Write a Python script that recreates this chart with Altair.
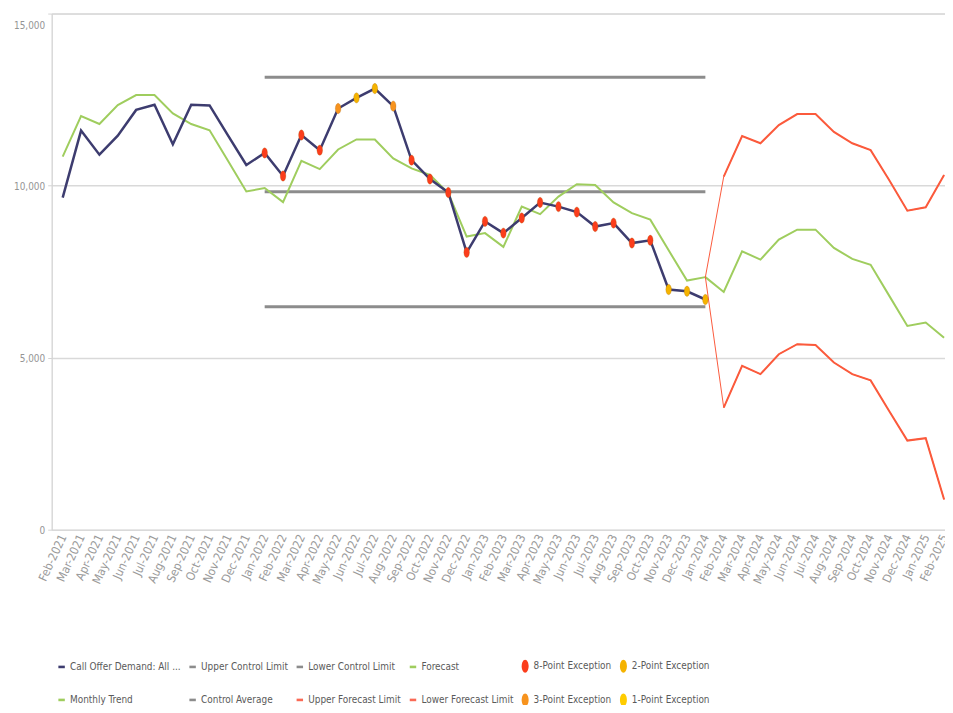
import altair as alt
import pandas as pd

months = [
    "Feb-2021", "Mar-2021", "Apr-2021", "May-2021", "Jun-2021", "Jul-2021", "Aug-2021",
    "Sep-2021", "Oct-2021", "Nov-2021", "Dec-2021", "Jan-2022", "Feb-2022", "Mar-2022",
    "Apr-2022", "May-2022", "Jun-2022", "Jul-2022", "Aug-2022", "Sep-2022", "Oct-2022",
    "Nov-2022", "Dec-2022", "Jan-2023", "Feb-2023", "Mar-2023", "Apr-2023", "May-2023",
    "Jun-2023", "Jul-2023", "Aug-2023", "Sep-2023", "Oct-2023", "Nov-2023", "Dec-2023",
    "Jan-2024", "Feb-2024", "Mar-2024", "Apr-2024", "May-2024", "Jun-2024", "Jul-2024",
    "Aug-2024", "Sep-2024", "Oct-2024", "Nov-2024", "Dec-2024", "Jan-2025", "Feb-2025",
]

# Actuals: Feb-2021 .. Jan-2024
demand = [9650, 11600, 10900, 11450, 12200, 12350, 11200, 12350, 12330, 11460, 10600,
          10950, 10280, 11470, 11030, 12240, 12550, 12820, 12310, 10740, 10190, 9800,
          8060, 8960, 8620, 9060, 9510, 9390, 9230, 8810, 8910, 8330, 8410, 6980, 6930, 6690]
trend = [10840, 12020, 11790, 12340, 12630, 12630, 12100, 11790, 11610, 10720, 9830,
         9930, 9520, 10720, 10480, 11050, 11340, 11340, 10790, 10500, 10310, 9780,
         8520, 8620, 8220, 9390, 9170, 9680, 10040, 10020, 9510, 9200, 9010, 8120, 7240, 7340]

# Forecast: Jan-2024 .. Feb-2025
forecast = [7340, 6910, 8090, 7850, 8430, 8720, 8720, 8190, 7870, 7700, 6810, 5920, 6020, 5580]
upper_fc = [7340, 10260, 11440, 11230, 11760, 12080, 12080, 11560, 11230, 11030, 10170, 9270, 9370, 10310]
lower_fc = [7340, 3550, 4760, 4520, 5100, 5390, 5370, 4860, 4520, 4340, 3460, 2590, 2660, 880]

# Control limits (Jan-2022 .. Jan-2024)
control_months = months[11:36]
ucl_value = 13150
cavg_value = 9820
lcl_value = 6480

exc_8 = ["Jan-2022", "Feb-2022", "Mar-2022", "Apr-2022", "Sep-2022", "Oct-2022", "Nov-2022",
         "Dec-2022", "Jan-2023", "Feb-2023", "Mar-2023", "Apr-2023", "May-2023", "Jun-2023",
         "Jul-2023", "Aug-2023", "Sep-2023", "Oct-2023"]
exc_3 = ["May-2022", "Aug-2022"]
exc_2 = ["Jun-2022", "Jul-2022", "Nov-2023", "Dec-2023", "Jan-2024"]
exc_1 = []

legend_names = ["Call Offer Demand: All ...", "Upper Control Limit", "Lower Control Limit",
                "Forecast", "8-Point Exception", "2-Point Exception",
                "Monthly Trend", "Control Average", "Upper Forecast Limit",
                "Lower Forecast Limit", "3-Point Exception", "1-Point Exception"]

NAVY = "#3d3c6f"
GREEN = "#9fcd5e"
GRAY = "#8c8c8c"
RED = "#fb5a3c"
C8 = "#fb3d1c"
C2 = "#f5b300"
C3 = "#f7931e"
C1 = "#ffcc00"

legend_colors = [NAVY, GRAY, GRAY, GREEN, C8, C2, GREEN, GRAY, "#fa6a55", "#fa6a55", C3, C1]
DASH = "M-0.5,-0.2L0.5,-0.2L0.5,0.2L-0.5,0.2Z"
ELLIPSE = "M0,-1A0.54,1,0,1,1,0,1A0.54,1,0,1,1,0,-1Z"
legend_shapes = [DASH, DASH, DASH, DASH, ELLIPSE, ELLIPSE,
                 DASH, DASH, DASH, DASH, ELLIPSE, ELLIPSE]

idx = {m: i for i, m in enumerate(months)}
FONT = "DejaVu Sans Condensed, Liberation Sans, sans-serif"


def series_df(name, month_list, values):
    return pd.DataFrame({"i": [idx[m] for m in month_list], "month": month_list,
                         "value": values, "series": name})


actual_months = months[:36]
fc_months = months[35:]

df_demand = series_df("Call Offer Demand", actual_months, demand)
df_green = pd.concat([series_df("Monthly Trend", actual_months, trend),
                      series_df("Forecast", fc_months, forecast)])
df_control = pd.concat([
    series_df("Upper Control Limit", control_months, [ucl_value] * len(control_months)),
    series_df("Control Average", control_months, [cavg_value] * len(control_months)),
    series_df("Lower Control Limit", control_months, [lcl_value] * len(control_months)),
])
df_limits = pd.concat([series_df("Upper Forecast Limit", fc_months, upper_fc),
                       series_df("Lower Forecast Limit", fc_months, lower_fc)])

exc_rows = []
for name, lst in [("8-Point Exception", exc_8), ("3-Point Exception", exc_3),
                  ("2-Point Exception", exc_2), ("1-Point Exception", exc_1)]:
    for m in lst:
        exc_rows.append({"i": idx[m], "month": m, "value": demand[idx[m]], "series": name})
df_exc = pd.DataFrame(exc_rows)

df_legend = pd.DataFrame({"series": legend_names, "i": [None] * 12, "value": [None] * 12})

label_expr = "[" + ",".join("'" + m + "'" for m in months) + "][datum.value]"

x_enc = alt.X("i:Q", scale=alt.Scale(domain=[-0.6, 48.05], nice=False, zero=False),
              axis=alt.Axis(values=list(range(len(months))), labelExpr=label_expr,
                            labelAngle=-65, labelOverlap=False, labelFlush=False,
                            domain=False, ticks=False, grid=False, title=None,
                            labelFont=FONT, labelFontSize=12, labelColor="#9a9a9a",
                            labelPadding=5))
y_enc = alt.Y("value:Q", scale=alt.Scale(domain=[0, 15000], nice=False),
              axis=alt.Axis(values=[0, 5000, 10000, 15000],
                            labelExpr="format(datum.value, ',')", title=None,
                            grid=True, gridColor="#d9d9d9", gridWidth=1.5,
                            domain=True, domainColor="#d4d4d4", domainWidth=1,
                            ticks=True, tickSize=4, tickColor="#d4d4d4",
                            labelFont=FONT, labelFontSize=10, labelColor="#949494",
                            labelPadding=3,
                            labelOffset={"condition": {"test": "datum.value == 15000", "value": 12},
                                         "value": 1}))

control = alt.Chart(df_control).mark_line(color=GRAY, strokeWidth=3).encode(
    x=x_enc, y=y_enc, detail="series:N")
green = alt.Chart(df_green).mark_line(color=GREEN, strokeWidth=2).encode(
    x=x_enc, y=y_enc, detail="series:N")
limits_thin = alt.Chart(df_limits).mark_line(color=RED, strokeWidth=1).encode(
    x=x_enc, y=y_enc, detail="series:N")
limits_thick = alt.Chart(df_limits).transform_filter("datum.i >= 36").mark_line(
    color=RED, strokeWidth=2).encode(x=x_enc, y=y_enc, detail="series:N")
navy = alt.Chart(df_demand).mark_line(color=NAVY, strokeWidth=2.5).encode(x=x_enc, y=y_enc)
points = alt.Chart(df_exc).mark_point(filled=True, shape=ELLIPSE, size=110, opacity=1,
                                      stroke="#9a5a00", strokeWidth=0.4, strokeOpacity=0.6).encode(
    x=x_enc, y=y_enc,
    fill=alt.Fill("series:N", scale=alt.Scale(domain=["8-Point Exception", "3-Point Exception",
                                                      "2-Point Exception", "1-Point Exception"],
                                              range=[C8, C3, C2, C1]), legend=None))

legend = alt.Legend(title=None, orient="none", legendX=3.5, legendY=651, columns=6,
                    direction="horizontal", gridAlign="each", columnPadding=5,
                    rowPadding=21, symbolSize=169,
                    symbolStrokeWidth=0, symbolOpacity=1, labelFont=FONT, labelFontSize=10,
                    labelColor="#5a5a5a", labelOffset=2, padding=0, labelLimit=200)
legend_layer = alt.Chart(df_legend).mark_point(filled=True, opacity=1, size=169).encode(
    x=x_enc, y=y_enc,
    color=alt.Color("series:N", scale=alt.Scale(domain=legend_names, range=legend_colors),
                    sort=legend_names, legend=legend),
    shape=alt.Shape("series:N", scale=alt.Scale(domain=legend_names, range=legend_shapes),
                    sort=legend_names, legend=legend))

chart = alt.layer(control, green, limits_thin, limits_thick, navy, points, legend_layer).resolve_scale(
    color="independent", fill="independent", shape="independent"
).properties(
    width=900, height=520,
    autosize=alt.AutoSizeParams(type="none"),
    padding={"left": 44, "top": 3, "right": 0, "bottom": 174},
).configure_view(stroke=None).configure(background="white")

chart.save("out.html", embed_options={"renderer": "svg", "actions": False})
